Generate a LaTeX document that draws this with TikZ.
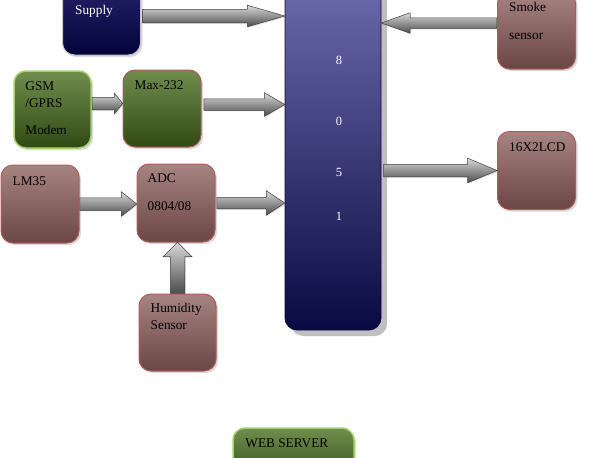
\documentclass[tikz,border=0pt]{standalone}
\usepackage{fontspec}
\setmainfont{Liberation Serif}
\usepackage{tikz}
\usetikzlibrary{shapes.arrows, shadows, calc}
\usepackage{xcolor}
\definecolor{brownlight}{HTML}{A68482}
\definecolor{browndark}{HTML}{6A4644}
\definecolor{brownedge}{HTML}{B25A5A}
\definecolor{greenlight}{HTML}{6F8D4D}
\definecolor{greendark}{HTML}{314A14}
\definecolor{greenedge}{HTML}{A3D16C}
\definecolor{navylight}{HTML}{26266E}
\definecolor{navydark}{HTML}{03033A}
\definecolor{mculight}{HTML}{6C6CAE}
\definecolor{mcudark}{HTML}{0A0A42}
\tikzset{blockbox/.style={rectangle, rounded corners=12pt, line width=1pt, minimum width=78pt, minimum height=78pt, drop shadow={shadow xshift=2pt, shadow yshift=-2pt, opacity=0.3}},
brownbox/.style={blockbox, draw=brownedge, top color=brownlight, bottom color=browndark},
greenbox/.style={blockbox, draw=greenedge, line width=1.5pt, top color=greenlight, bottom color=greendark},
navybox/.style={blockbox, draw=gray!45, top color=navylight, bottom color=navydark},
boxtext/.style={anchor=north west, inner sep=0pt, align=left, font=\fontsize{13.3}{17}\selectfont},
arrowbody/.style={single arrow, draw=black!75, line width=0.5pt, top color=gray!30, bottom color=black!70, inner xsep=0pt, single arrow head indent=0pt, drop shadow={shadow xshift=1pt, shadow yshift=-1pt, opacity=0.25}}}
% block arrow: from, to, shaft width, head width, tip angle
\newcommand{\blockarrow}[5]{%
    \path let \p1=(#1), \p2=(#2), \n1={veclen(\x2-\x1,\y2-\y1)}, \n2={atan2(\y2-\y1,\x2-\x1)} in
        node[arrowbody, anchor=tail, rotate=\n2, minimum height=\n1, inner ysep={(#3)/2}, single arrow head extend={(#4-#3)/2}, single arrow tip angle=#5] at (\p1) {};
}

\begin{document}
\begin{tikzpicture}
        \clip (0pt, 0pt) rectangle (590pt, -458pt);
        % Controller
        \node[rectangle, rounded corners=12pt, minimum width=96pt, minimum height=352pt, draw=mcudark, line width=0.8pt, top color=mculight, bottom color=mcudark, drop shadow={shadow xshift=6pt, shadow yshift=-6pt, fill=gray!50, opacity=1}] (mcu) at (333pt, -154pt) {};
        \foreach \d/\y in {8/60, 0/121.5, 5/172.5, 1/216} {
            \node[text=white, font=\fontsize{12.5}{14}\selectfont] (digit\d) at (339pt, -\y pt) {\d};
        }
        % Blocks
        \node[navybox] (sup) at (101.5pt, -16pt) {};
        \node[brownbox] (smoke) at (536.5pt, -30pt) {};
        \node[greenbox, minimum width=77pt, minimum height=77pt] (gsm) at (52.5pt, -109.5pt) {};
        \node[greenbox, draw=brownedge, line width=1pt, minimum height=77pt] (max) at (162pt, -108.5pt) {};
        \node[brownbox] (lcd) at (536.5pt, -170.5pt) {};
        \node[brownbox] (lm) at (40pt, -204pt) {};
        \node[brownbox] (adc) at (176pt, -203pt) {};
        \node[brownbox, minimum width=77pt, minimum height=77pt] (hum) at (177.5pt, -332.5pt) {};
        \node[greenbox, minimum width=121pt, minimum height=60pt] (web) at (293.5pt, -458pt) {};
        % Labels
        \node[boxtext, text=white] (suptext) at ([shift={(13pt,-29pt)}]sup.north west) {Supply};
        \node[boxtext] (smoketext) at ([shift={(12pt,-12pt)}]smoke.north west) {Smoke\\[11pt]sensor};
        \node[boxtext] (gsmtext) at ([shift={(12pt,-11pt)}]gsm.north west) {GSM\\/GPRS\\[10pt]Modem};
        \node[boxtext] (maxtext) at ([shift={(12pt,-11pt)}]max.north west) {Max-232};
        \node[boxtext] (lcdtext) at ([shift={(12pt,-11pt)}]lcd.north west) {16X2LCD};
        \node[boxtext] (lmtext) at ([shift={(12pt,-12pt)}]lm.north west) {LM35};
        \node[boxtext] (adctext) at ([shift={(11pt,-10pt)}]adc.north west) {ADC\\[11pt]0804/08};
        \node[boxtext] (humtext) at ([shift={(12pt,-10pt)}]hum.north west) {Humidity\\Sensor};
        \node[boxtext] (webtext) at ([shift={(13pt,-11pt)}]web.north west) {WEB SERVER};
        % Arrows
        \blockarrow{[xshift=1pt]sup.east}{sup.east -| mcu.west}{13pt}{21pt}{32}
        \blockarrow{[yshift=7pt]smoke.west}{[yshift=7pt]smoke.west -| mcu.east}{10pt}{20pt}{39}
        \blockarrow{[yshift=6pt]gsm.east}{[yshift=6pt]gsm.east -| max.west}{12pt}{20pt}{102}
        \blockarrow{[shift={(2pt,4pt)}]max.east}{[yshift=4pt]max.east -| mcu.west}{11pt}{23pt}{60}
        \blockarrow{lm.east}{lm.east -| adc.west}{12pt}{24pt}{77}
        \blockarrow{[xshift=1pt]adc.east}{adc.east -| mcu.west}{11pt}{24pt}{67}
        \blockarrow{hum.north}{hum.north |- adc.south}{14pt}{28pt}{90}
        \blockarrow{[xshift=2pt]lcd.west -| mcu.east}{lcd.west}{12pt}{24pt}{45}
\end{tikzpicture}
\end{document}
